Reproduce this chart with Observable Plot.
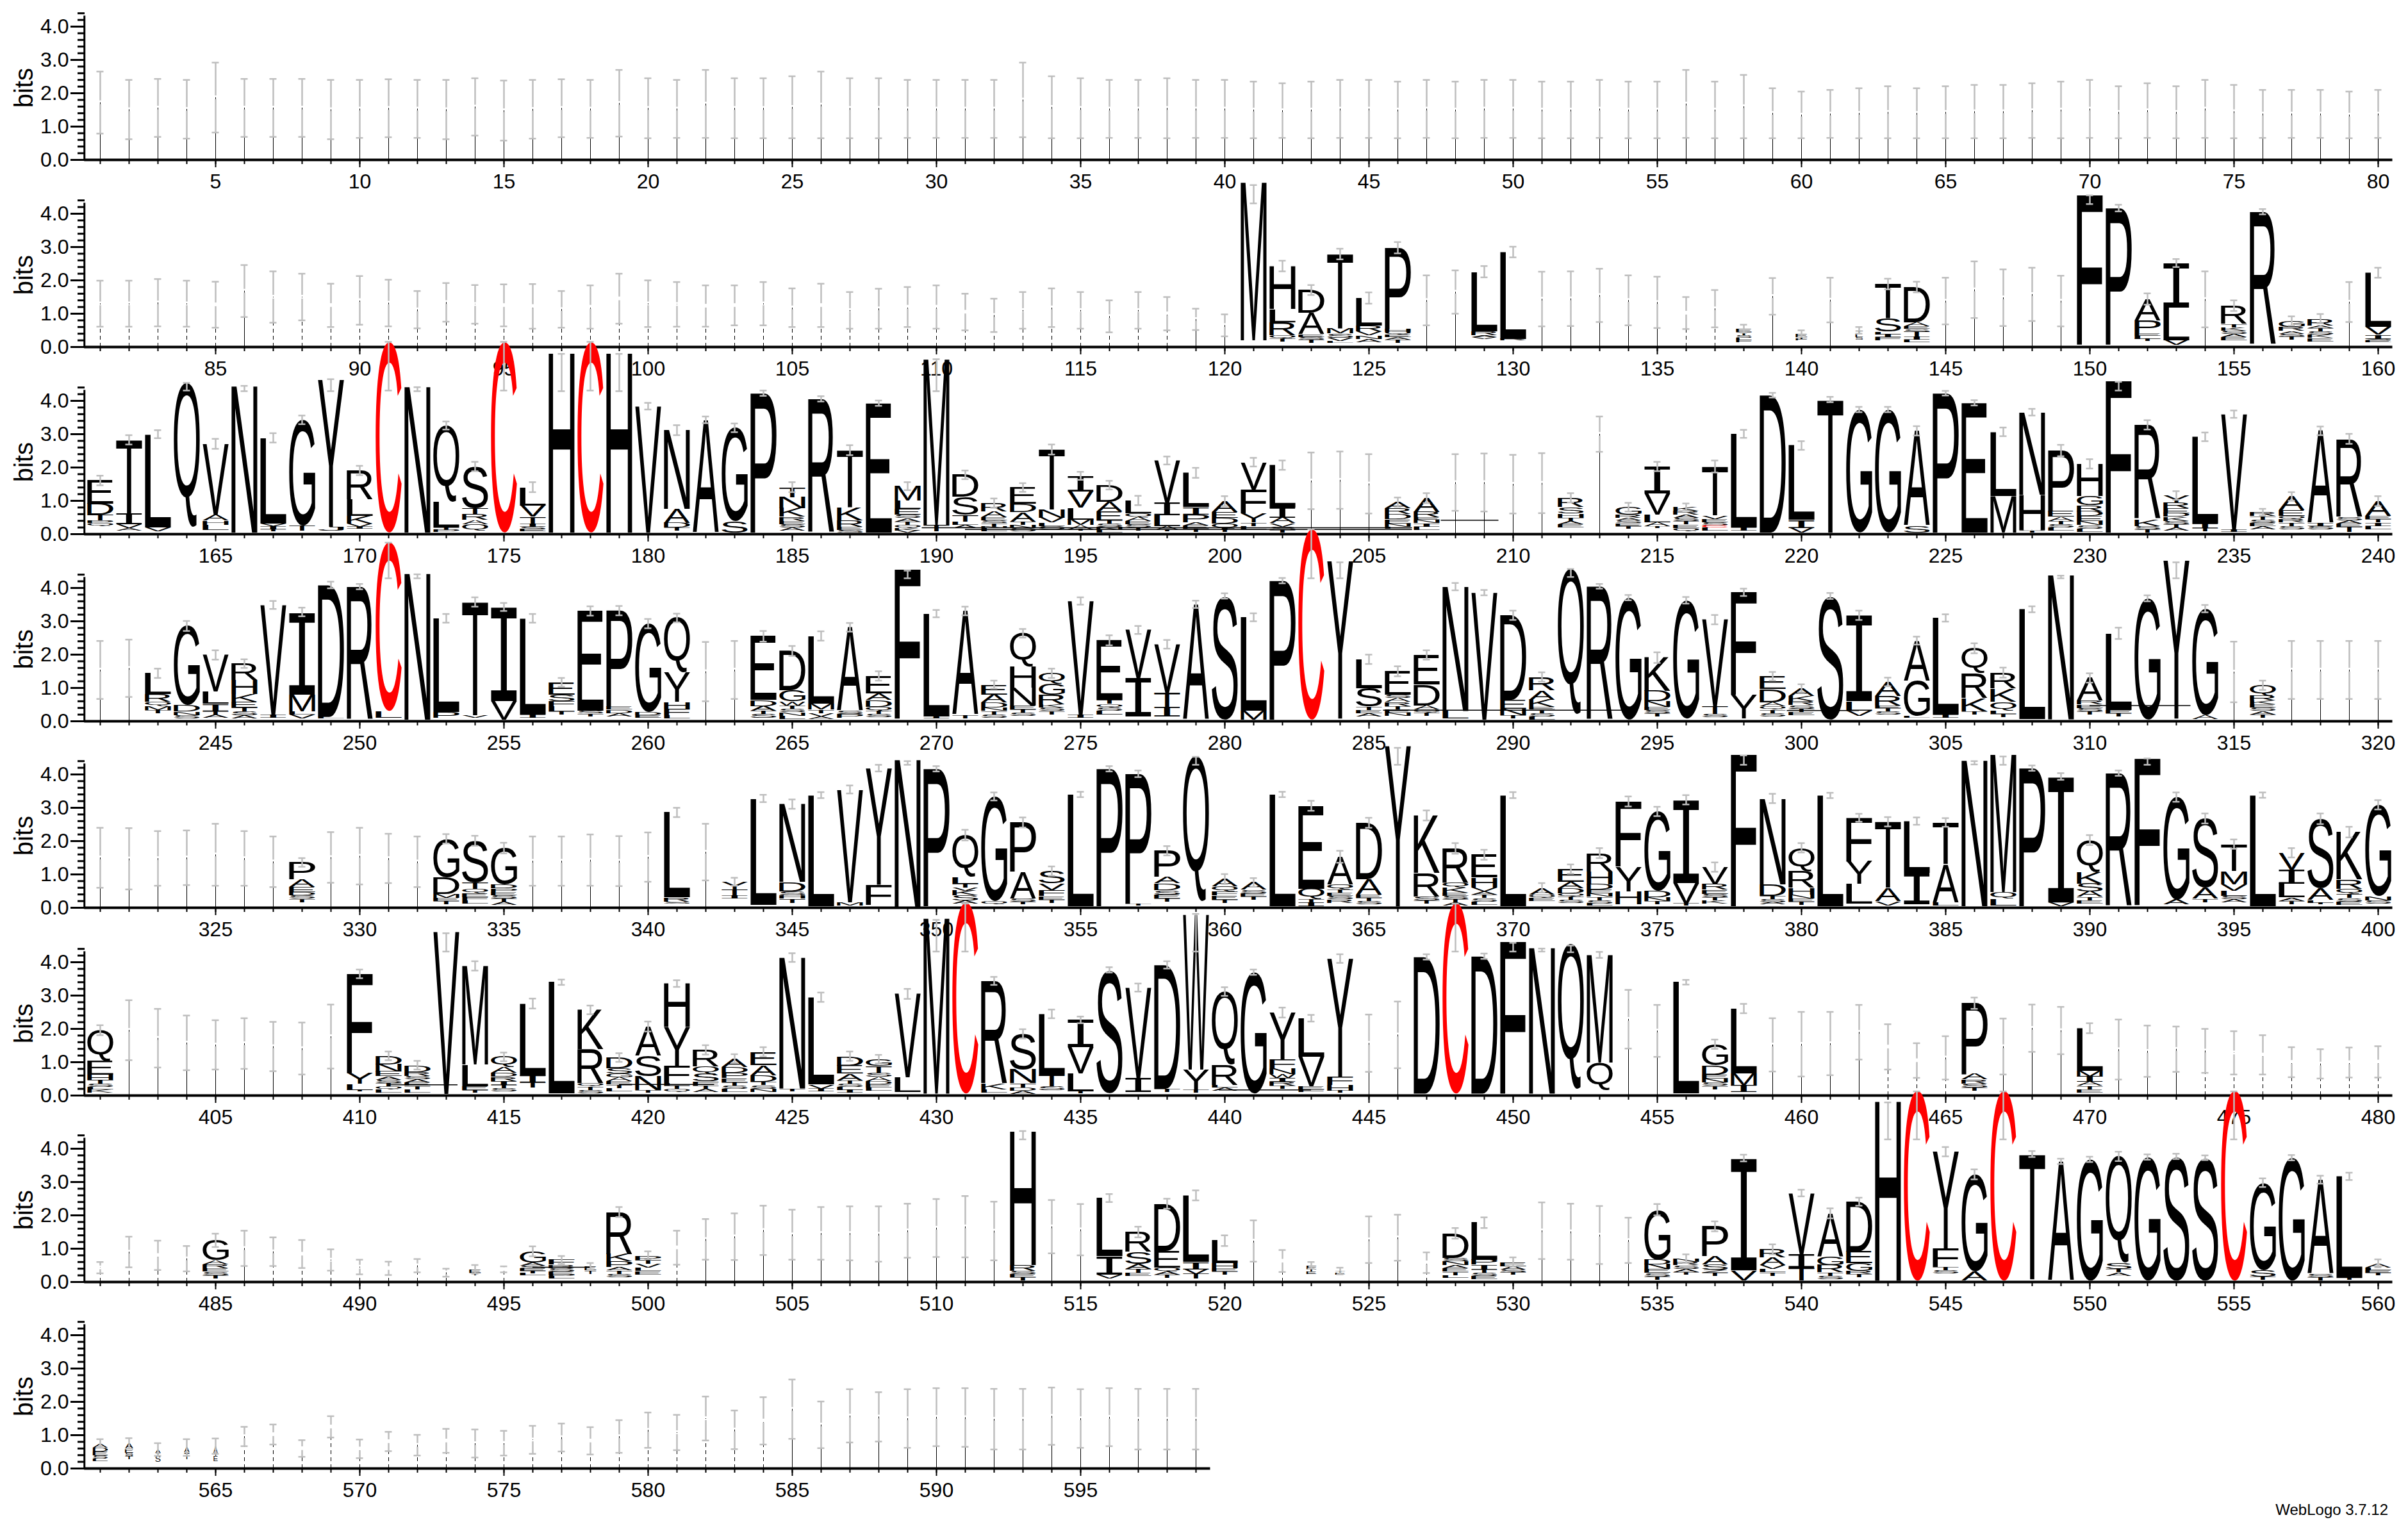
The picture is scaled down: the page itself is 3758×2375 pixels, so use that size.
<!DOCTYPE html>
<html><head><meta charset="utf-8">
<script src="https://cdn.jsdelivr.net/npm/d3@7"></script>
<script src="https://cdn.jsdelivr.net/npm/@observablehq/plot@0.6"></script>
<style>
html,body{margin:0;padding:0;background:#fff;}
#page{position:relative;width:3758px;height:2375px;overflow:hidden;font-family:"Liberation Sans",sans-serif;}
.row{position:absolute;left:0;}
#credit{position:absolute;right:31px;top:2342px;font-size:24px;line-height:28px;color:#000;}
</style></head><body><div id="page"></div>
<script>
// Each entry: letters top-down with height in bits ("_" blank, "|" or "!" thin line), ":" half error or "lo,hi", optional ":" half stack width
const row1=["|1.72:.93","|1.51:.89","|1.56:.87","|1.52:.88","|1.87:1.05","|1.56:.87","|1.56:.87","|1.56:.87","|1.51:.89","|1.53:.87","|1.55:.87","|1.53:.87","|1.51:.89","|1.59:.86","|1.48:.9","|1.52:.88","|1.55:.87","|1.53:.87","|1.7:1","|1.55:.9","|1.53:.87","|1.68:1.02","|1.55:.9","|1.55:.9","|1.58:.93","|1.65:1","|1.55:.9","|1.55:.9","|1.53:.87","|1.53:.87","|1.53:.87","|1.53:.87","|1.8:1.12","|1.58:.93","|1.55:.9","|1.53:.87","|1.53:.87","|1.55:.9","|1.53:.87","|1.53:.87","|1.5:.85","|1.48:.82","|1.5:.85","|1.53:.87","|1.53:.87","|1.5:.85","|1.53:.87","|1.5:.85","|1.53:.87","|1.53:.87","|1.5:.85","|1.5:.85","|1.53:.87","|1.5:.85","|1.5:.85","|1.68:1.02","|1.5:.85","|1.6:.95","|1.4:.75","|1.35:.7","|1.38:.72","|1.4:.75","|1.43:.78","|1.4:.75","|1.43:.78","|1.45:.8","|1.45:.8","|1.48:.82","|1.5:.85","|1.53:.87","|1.43:.78","|1.48:.82","|1.43:.78","|1.53:.87","|1.45:.8","|1.38:.72","|1.38:.72","|1.38:.72","|1.35:.7","|1.38:.72"];
const row2=["!1.3:.69","!1.3:.69","!1.33:.71","!1.3:.69","!1.27:.69","|1.68:.78","!1.5:.77","!1.5:.7","!1.25:.65","!1.4:.73","!1.32:.7","!1.12:.56","!1.34:.58","!1.28:.58","!1.25:.63","!1.22:.67","!1.13:.55","!1.2:.65","!1.45:.75","!1.3:.7","!1.28:.67","!1.23:.62","!1.25:.6","!1.3:.65","!1.18:.58","!1.25:.65","!1.1:.55","!1.15:.6","!1.2:.6","!1.2:.65","!1.05:.55","!.95:.5","!1.1:.55","!1.18:.58","!1.1:.55","!.92:.48","!1.1:.55","!1:.5","|.83:.32","|.65:.33",
"M4.74_.2:4.31,4.86","H1.28L.4R.4Q.08T.1_.17:.16","D.68A.65E.08S.08T.09_.13:.15","T2.23M.15S.13V.1L.05_.13:.16","L.83R.17V.12N.1A.1_.15:.17","P2.43H.09Q.09E.07A.07T.1_.13:.17","|1.4:.75","|1.65:.65","L1.78R.13A.05V.05_.25:.17","L2.6R.05_.2:.16","|1.44:.82","|1.45:.82","|1.55:.8","|1.4:.75","|1.34:.77","!1.02:.48","!1.15:.56","E.1T.1S.08L.06F.06_.15:.12:.27","|1.52:.55","E.1T.05F.05_.2:.1:.2","|1.41:.67","T.1L.1S.08_.22:.1:.13","T1.03S.4L.08I.08F.1_.2:.16","D1.06A.12E.08S.08T.14I.1L.08_.14:.16","|1.38:.7","|1.72:.85","|1.48:.85","|1.58:.8","|1.38:.76","F4.49_.07:4.29,4.55","P4.1_.07:.1","A.64P.38E.08L.1T.06_.18:.17","I1.33L.98V.14_.07:.12","|1.43:.84","R.55T.1K.09S.1A.1E.1_.2:.16","R3.99_.07:.08","G.18R.12A.08S.08T.1_.22:.14","R.2A.08T.1S.1K.1E.1_.17:.14","|1.35:.6","L1.63V.23I.12S.05E.05_.15:.15"];
const row3=["E.7D.33T.17P.08Q.1_.23:.145","T2.2I.33V.12A.08_.1:.14","L2.79V.13_.08:.12","Q4.31_.23:4.31,4.54","V2.14A.16H.13L.15_.13:.15","N4.39_.05:4.29,4.45","L2.57V.08I.1T.05_.09:.14","G3.18T.15_.1:.13","Y4.42J.12_.1:4.29,4.65","R.87L.5K.22V.1I.06_.16:.14","C5.72_.05:4.31,5.77","N4.37_.05:4.29,4.41","Q2.3L.75T.08P.06_.07:.12","S1.25T.18R.17A.13Q.2_.1:.14","C5.72_.05:4.31,5.77","L.55V.34T.2I.1S.08E.06_.08:.15","H5.38_.05:4.29,5.41","C5.72_.05:4.31,5.77","H5.38_.05:4.29,5.41","V3.79_.05:.1",
"N2.36A.42D.14T.1_.1:.15","A3.38_.05:.1","G2.8S.34_.05:.13","P4.18_.05:.08","T.3N.33K.26R.12E.1S.1A.1_.1:.15","R4.01_.05:.08","T1.7K.4R.2E.1S.07_.05:.15","E3.88_.05:.08","M.43L.25E.18S.1A.1T.1Q.1K.08V.06_.04:.12","M4.97T.2_.08:4.29,5.25","D.66S.54T.2L.1A.1_.18:.13","R.25A.17E.1S.08T.1N.05L.1_.08:.14","E.49D.25A.28T.1N.1S.1_.08:.13","T1.8N.25V.14L.1S.1_.15:.15","I.47V.49L.35M.17A.12T.05_.1:.12","D.49A.3E.26T.1S.1N.1L.07_.05:.13","L.38Q.12A.11E.1S.1T.1_.1:.14","V1.28I.37L.31A.12T.05_.08:.12","L1.03I.22P.23A.1E.1T.1_.06:.15","A.33E.17D.17Q.14I.06T.06_.06:.15",
"V.82F.72Y.27T.1L.1_.15:.13","L1.28I.3A.16V.1S.1T.08_.05:.14","|1.6:.85","|1.62:.86","|1.51:.89","A.19R.17D.15E.13N.1L.05_.17:.14","A.42R.16E.07N.1I.1L.1_.13:.15","|1.55:.85","|1.55:.87","|1.5:.88","|1.53:.9","R.28S.18H.13T.1A.1E.1_.2:.14","|3:.53","G.22R.1A.08S.08E.08T.08_.17:.13","I.8V.65L.23A.12T.05_.18:.14","K.11R.11A.1S.1T.1E.1Q.1_.09:.11","T1.47V.1E.1S.1C.06L.1_.1:.18","L2.81I.1_.1:.12","D4.12_.05:.07","L2.23I.24V.14_.05:.13",
"T3.99_.05:.08","G3.69_.05:.08","G3.69_.05:.08","A2.85S.2_.05:.14","P4.18_.05:.07","E3.89_.05:.08","L1.93M1.09_.05:.13","N2.47H1.06A.03T.05_.05:.1","P1.82E.16A.13T.1S.1L.1_.1:.17","H.97G.27R.18D.15E.14N.13S.1L.1_.07:.14","F4.55_.05:4.31,4.57","R2.83K.2S.1T.1_.05:.14","Y.23R.16E.14D.11K.12S.1T.1A.1_.1:.13","L2.6I.14T.1_.08:.13","V3.46I.07_.07:.11","R.12T.1S.1E.1A.1_.14:.1","A.42E.16Q.1R.1T.1S.1_.15:.13","A2.77I.08S.1_.15:.13","R2.34S.1A.1E.1T.15_.07:.15","A.44E.1T.1I.1L.1_.15:.15"];
const row4=["|1.54:.87","|1.59:.86","L.63R.23Q.12M.12T.1_.24:.14","G2.37D.2N.1S.1_.09:.15","V1.1L.37I.22T.1A.1_.1:.14","R.5H.42K.22E.17T.12S.12A.1_.08:.13","V3.3I.09_.1:.12","I2.48M.5L.1V.12_.08:.13","D3.96L.05_.08:.1","R3.99_.05:.08","C5.07L.2_.11:4.29,5.36","N4.38_.05:4.29,4.41","L2.82P.17_.1:.13","T3.4V.08_.1:.14","I2.82V.56_.05:.12","L2.89I.1_.1:.13","E.37S.2F.15L.15T.1_.2:.13","E3S.08T.08_.15:.14","P2.87E.1D.1A.1_.15:.14","G2.65D.1E.08_.1:.14",
"Q1.64Y.88H.2F.2L.1_.08:.13","|1.49:.89","|1.54:.87","E1.91D.18A.14T.1S.12_.1:.16","D1.18G.33W.13T.1S.1N.1L.1_.07:.15","L2.03M.18T.1V.1A.08_.07:.14","A2.5S.1P.12_.1:.13","E.52A.2D.2Q.12T.1S.1_.12:.14","F4.48_.08:4.29,4.52","L3.09I.06_.08:.11","A3.12T.1_.09:.13","E.3A.24D.15N.1T.1S.1_.11:.12","Q1H.63N.53E.12T.1S.1_.16:.13","Q.31G.33R.29K.1S.1T.1_.21:.14","V3.42I.09_.1:.11","E1.79T.12Q.1S.1L.12_.2:.15","V1.44I1.16_.14:.12","V1.46T.42I.28_.15:.13","A3.46_.05:.11","S3.71_.05:.08",
"L2.8M.27_.05:.12","P4.17_.05:.08","C5.72_.05:4.29,5.76","Y4.73_.08:4.29,4.77","L.87S.55T.1E.1A.1_.14:.14","E.7S.1A.12R.12T.1E.1N.1_.16:.15","E.89D.62A.12Q.1T.1_.16:.14","N3.73L.22_.09:.11","V3.81_.05:.08","D2.53E.27N.2T.1_.08:.14","R.4A.28K.22E.08T.1S.1L.1_.05:.14","Q4.35_.22:4.33,4.57","R4_.05:.07","G3.66_.05:.08","K1D.31N.16E.1S.1T.1_.14:.16","G3.55_.08:.1","V2.6T.22S.1_.13:.14","F3.08Y.7_.09:.11","E.38D.4A.12Q.1T.1S.1_.15:.13","A.23K.15R.13S.1T.1E.1_.18:.12",
"S3.71_.05:.09","I2.58L.28V.15_.17:.14","A.42R.3E.06T.1S.1_.2:.13","A1.2G1.06L.05_.11:.12","L2.9I.1_.1:.11","Q.75R.75K.39T.1_.2:.15","R.48K.4Q.26L.1T.1_.12:.15","L3.3_.06:.09","N4.33_.06:4.29,4.37","A.68R.12E.1S.1T.1_.2:.14","L2.3E.1T.1_.14:.17","G3.64_.05:.09","Y4.75_.08:4.29,4.77","G3.2A.12_.06:.11","|1.48:.91","Q.3R.15K.12E.1S.1A.1T.1_.11:.14","|1.54:.87","|1.54:.87","|1.54:.87","|1.54:.87"];
const row5=["|1.5:.9","|1.47:.92","|1.48:.82","|1.5:.82","|1.59:.93","|1.48:.82","|1.38:.76","P.51A.23E.15D.1S.1T.1_.17:.13","|1.51:.76","|1.55:.85","|1.48:.74","|1.38:.76","G1.15D.5M.12E.1T.1_.1:.14","S1.24T.2Q.13E.12F.1L.1_.12:.15","G1.09D.12P.1E.1S.1T.1A.1_.08:.16","|1.4:.74","|1.4:.74","|1.43:.77","|1.4:.75","|1.52:.74",
"L2.55R.13S.05_.13:.14","|1.67:.85","Y.23T.17I.1_.28:.12","L3.19_.09:.11","N2.33D.28S.13H.1T.12_.15:.14","L3.33_.05:.09","V3.38M.1_.07:.12","Y3.5F.6_.09:.1","N4.42_.02:4.29,4.4","P4.12_.05:.08","Q1.25L.2T.12V.1K.14S.15A.1_.12:.16","G3.15Q.09_.1:.12","P1.48A.8S.1T.08_.1:.15","S.37V.2F.18E.1T.1_.15:.14","L3.36_.04:.08","P4.12_.05:.08","P3.9T.05_.07:.1","P.78A.2D.2S.13E.12T.1_.18:.14","Q4.35_.2:4.29,4.53","A.22Q.15F.12E.12T.1_.15:.15",
"A.22S.1E.1T.1_.24:.13","L3.36_.04:.08","E2.49Q.3T.1I.12_.05:.15","A.84Q.14T.1E.1S.1R.1_.15:.18","D1.69A.46E.1T.1S.1_.1:.15","Y4.82_.04:4.29,4.8","K1.73R.7S.12T.1_.12:.15","R1.03Q.14K.15E.1S.1T.1A.1_.06:.16","E.68H.3V.12A.1T.1S.1L.1_.09:.15","L3.33_.05:.09","A.2Q.1E.1_.2:.14","E.38A.2D.14Q.1T.1S.1_.14:.14","R.55H.38D.16E.12N.1T.1S.1L.06_.07:.15","F1.95Y.74H.4_.1:.15","G2.37D.2N.12T.1_.1:.14","I2.5V.62T.06_.06:.14","V.52R.16E.12S.1T.1K.1_.12:.14","F4.55_.05:4.29,4.57","N2.57D.35T.1S.1A.06_.1:.14","Q.7R.5H.2N.12E.1T.1_.08:.14",
"L3.32_.05:.08","F1.3Y.68L.6_.12:.12","T1.98A.4V.13_.07:.14","L1.55I.95_.1:.11","T1.25A1.15L.1_.06:.13","N4.37_.05:4.3,4.4","M4.13Q.2L.2_.07:4.29,4.54","P4.14_.05:.08","I3.78V.11_.05:.1","Q.95K.35S.24A.16T.1E.1_.13:.15","R3.99_.05:.08","F4.4_.08:4.29,4.48","G3.08A.14_.1:.14","S2.09A.32T.1_.17:.15","T.8M.4V.2L.15S.1A.1_.16:.14","L3.33_.05:.08","V.5I.42L.42A.1T.1_.11:.14","S2.1A.34L.08T.05_.1:.16","K1.42R.28Q.16T.12S.1E.1_.09:.16","G2.74N.12S.1_.13:.14"];
const row6=["Q.92E.42H.14T.12S.1L.08K.1_.08:.15","|1.96:.9","|1.72:.88","|1.58:.82","|1.52:.74","|1.56:.76","|1.47:.74","|1.41:.78","|1.77:.96","F2.98Y.32L.18T.05_.12:.13","D.25N.21E.15A.1S.1T.1Q.1L.1_.08:.13","D.2R.12S.1A.1E.1T.1L.1_.09:.13","V4.87_.05:4.32,4.87","M2.96L.65E.12T.08_.08:.14","Q.3A.17D.13R.12I.12T.1S.1_.12:.13","L2.17I.2T.15_.24:.15","L3.34_.06:.08","K1.18R1.02Q.1T.1S.1_.07:.13","D.32S.15G.12A.12E.1T.1L.1_.13:.13","A.87S.62N.42T.08_.08:.15",
"H1.3Y1.16F.52L.08T.1Q.1_.1:.1","R.5Q.22S.22F.13T.1A.1_.1:.14","A.25D.18P.15E.13T.1S.1L.1_.1:.13","E.4A.3D.2T.1S.1N.1_.11:.14","N3.93T.08_.13:.13","L2.62V.13I.08_.12:.14","D.28E.24A.2T.1S.1L.1I.08_.08:.14","G.2T.2S.13A.12D.1E.1L.1_.14:.13","V2.51L.44_.1:.15","M5.26_.06:4.32,5.27","C5.74_.06:4.32,5.76","R3.08K.18L.1_.08:.12","S1.06N.42T.12D.1A.1_.05:.14","L1.83T.34S.12_.16:.13","I.82V.78L.54T.07_.06:.1","S3.7_.07:.08","V2.72I.42_.1:.12","D3.72T.1_.1:.11","W4.65Y.6T.1_.08:4.32,5.45","Q2.2R.6L.08A.1_.14:.13",
"G3.64_.06:.08","Y1.41F.26N.17W.12I.11R.12T.1_.2:.15","L1.16V.88E.1F.08_.1:.1","Y3.55F.25H.17T.06_.08:.13","|1.57:.86","|1.82:1","D4.1_.06:.08","C5.72_.06:4.32,5.76","D4.12_.06:.08","F4.56_.06:4.32,4.58","N4.37_.06:4.32,4.41","Q4.34_.2:4.3,4.5","M3.23Q.82_.17:.09","|2.29:.88","|1.94:.78","L3.34_.06:.07","G.63D.28E.12N.12S.1T.1_.19:.14","L1.95M.36I.2_.1:.14","|1.52:.8","|1.54:.97",
"|1.56:.95","|1.9:.82","!1.46:.68","!1.05:.52","!1.13:.65","P2.13A.16R.12S.12T.1_.14:.17","|1.47:.84","|2.02:.71","|1.95:.71","L1.28M.17I.16A.12T.1E.1_.09:.15","|1.38:.9","|1.33:.77","|1.39:.68","!1.34:.66","!1.28:.65","!1.22:.59","!1:.45","!.95:.44","!.99:.45","!1.01:.47"];
const row7=["!.43:.17","!.9:.46","!.8:.44","!.7:.38","G.6A.12R.12E.1S.1T.1_.11:.2","|1.01:.53","!.91:.43","!.84:.42","!.66:.32","!.45:.22","!.41:.2","!.49:.2","!.28:.12","E.1T.08_.2:.13:.2","!.38:.09","G.33A.1S.07E.08T.08L.06_.2:.15","F.14R.1S.1E.1P.06L.06_.1:.12","E.12T.1_.25:.1:.2","R1.27K.21P.17A.1T.1S.1_.15:.15","P.13T.12V.12L.1E.1_.23:.12",
"!1.03:.51","|1.28:.61","|1.36:.7","|1.55:.74","|1.42:.75","|1.46:.79","|1.46:.81","|1.44:.83","|1.54:.81","|1.62:.87","|1.66:.92","|1.53:.88","H4.01R.17S.1E.1T.1_.04:4.28,4.53","|1.66:.8","|1.57:.77","L1.75I.55V.12_.1:.12","R.6S.36A.14T.12E.1_.18:.16","D1.41E.5Q.12A.1T.1_.12:.15","L2I.22V.14T.14_.1:.15","L.68H.14E.1T.1_.22:.16",
"|1.23:.62","!.63:.33","F.1T.08E.08_.24:.1:.17","T.05E.05_.23:.1:.17","|1.27:.7","|1.33:.69","!.58:.31","D.73S.1N.12A.1E.1T.1L.08_.13:.16","L1.12P.14I.14T.1S.1E.1_.08:.16","E.12A.1S.08T.07_.23:.14","|1.54:.85","|1.51:.84","|1.41:.87","|1.25:.68","G1.5D.14N.14E.12S.1T.1_.07:.17","N.1R.1S.1A.1T.08_.22:.13","P.9A.24S.15Z.1T.1_.18:.15","I3.37V.3_.05:.1","R.24A.23V.12L.1T.1_.19:.15","V1.83I.4T.4_.04:.1",
"A1.29G.26R.22T.1S.1_.09:.15","D1.49E.36G.22R.1T.1_.14:.12","H5.38_.04:4.28,5.39","C5.7_.04:4.28,5.72","Y2.9F.56T.1S.1_.25:.14","G2.92A.26_.05:.15","C5.7_.04:4.28,5.72","T3.76_.08:.09","A3.58_.04:.08","G3.64_.04:.08","Q3.2S.18T.1A.1_.19:.14","G3.71_.04:.08","S3.73_.04:.08","S3.69_.04:.07","C5.7_.04:4.28,5.72","G2.62S.19T.1_.07:.13","G3.69_.04:.08","A2.83S.1T.1_.04:.12","L3.05T.05_.07:.11","A.12L.08E.08T.08_.2:.12"];
const row8=["A.13D.11E.11S.1L.08_.22:.13:.26","A.15E.12S.1T.1_.28:.16:.14","A.1T.1S.18_.19:.19:.09","A.15T.2_.28:.25:.09","A.2T.1E.15_.22:.23:.07","!.96:.29","!1.02:.3","!.6:.25","!1.25:.32","!.59:.28","!.81:.29","!.7:.31","!.83:.36","!.75:.42","!.76:.37","!.86:.42","!.93:.42","!.83:.41","!.96:.49","!1.15:.53","!1.08:.53","!1.5:.66","!1.16:.58","!1.43:.71","|1.78:.89","|1.31:.7","|1.58:.8","|1.55:.74","|1.5:.88","|1.54:.87","|1.53:.88","|1.48:.91","|1.48:.91","|1.57:.86","|1.5:.88","|1.54:.87","|1.48:.91","|1.48:.91","|1.48:.91"];
const rows=[row1,row2,row3,row4,row5,row6,row7,row8];
const rowStarts=[1,81,161,241,321,401,481,561];
const baselines=[249,541,833,1124.5,1416,1708.5,2000,2291];
const wideLines=[[189.5,206.5,.19],[191,206.5,.14],[207.5,209.5,.42],[285.5,294,.33],[299.5,302,.32],[310,313.5,.47],[411,413.4,.32],[419,422.3,.33],[439.8,443,.17],[496,498,.44]];
const maxBits=4.32, stackHalf=.45, capHalf=.122, gap=.055;
const RED="#ff0000", GREY="#bebebe", FONT='"Liberation Sans"', SERIF_I='"Liberation Mono"';

const ctx=document.createElement("canvas").getContext("2d");
const inkCache={};
function ink(ch){
  if(!inkCache[ch]){
    ctx.font="200px "+(ch==="I"?SERIF_I:FONT);
    const m=ctx.measureText(ch);
    inkCache[ch]={l:m.actualBoundingBoxLeft/2,r:m.actualBoundingBoxRight/2,a:m.actualBoundingBoxAscent/2,d:m.actualBoundingBoxDescent/2};
  }
  return inkCache[ch];
}
function parseRow(list,start){
  const letters=[],thin=[],dash=[],bars=[],caps=[];
  list.forEach((s,i)=>{
    const pos=start+i,[st,e,w]=s.split(":");
    const half=w?+w:stackHalf;
    const toks=[...st.matchAll(/([A-Z_|!])([\d.]+)/g)].map(m=>[m[1],+m[2]]);
    const top=d3.sum(toks,t=>t[1]);
    let y=top;
    for(const [c,h] of toks){
      if(c==="|")thin.push({pos,y0:y-h,y1:y});
      else if(c==="!")dash.push({pos,y0:y-h,y1:y});
      else if(c!=="_")letters.push({pos,half,letter:c,y0:y-h,y1:y});
      y-=h;
    }
    let lo,hi;
    if(e.includes(",")){[lo,hi]=e.split(",").map(Number);}else{lo=top-(+e);hi=top+(+e);}
    const blank=toks[0][0]==="|"||toks[0][0]==="!";
    if(blank){bars.push({pos,a:lo,b:top-gap},{pos,a:top+gap,b:hi});}
    else bars.push({pos,a:lo,b:hi});
    caps.push({x1:pos-capHalf,x2:pos+capHalf,y:lo},{x1:pos-capHalf,x2:pos+capHalf,y:hi});
  });
  return {letters,thin,dash,bars,caps};
}
function letterMark(letters){
  return Plot.text(letters,{x:"pos",y:"y0",text:"letter",fontSize:100,textAnchor:"start",
    fill:d=>d.letter==="C"?RED:"#000",
    render(index,scales,values,dimensions,context,next){
      const g=next(index,scales,values,dimensions,context);
      const nodes=g.querySelectorAll("text");
      index.forEach((i,k)=>{
        const d=letters[i],n=nodes[k]; if(!n)return;
        const m=ink(d.letter);
        const X0=scales.x(d.pos-d.half),X1=scales.x(d.pos+d.half);
        const Yb=scales.y(d.y0),Yt=scales.y(d.y1);
        const sx=(X1-X0)/(m.l+m.r),sy=(Yb-Yt)/(m.a+m.d);
        n.removeAttribute("y");n.removeAttribute("dy");
        n.setAttribute("text-anchor","start");
        if(d.letter==="I")n.setAttribute("font-family",SERIF_I);
        n.setAttribute("transform",`translate(${X0+m.l*sx},${Yb-m.d*sy}) scale(${sx},${sy})`);
      });
      return g;
    }});
}
const page=document.getElementById("page");
const H=292,MB=40,PX=3733.5;
const pxBit=52;
rows.forEach((list,r)=>{
  const start=rowStarts[r],end=start+list.length-1;
  const {letters,thin,dash,bars,caps}=parseRow(list,start);
  const all=d3.range(start,end+1),major=all.filter(v=>v%5===0);
  const wides=wideLines.filter(w=>w[0]>=start-1&&w[0]<=end).map(w=>({x1:w[0],x2:w[1],y:w[2]}));
  const svg=Plot.plot({
    width:3758,height:H,marginLeft:132,marginRight:24.5,marginBottom:MB,marginTop:H-MB-maxBits*pxBit,
    style:{background:"transparent",overflow:"visible",maxWidth:"none",fontFamily:FONT,color:"#000"},
    x:{domain:[start-.5,start+79.5],range:[133.5,PX],axis:null},
    y:{domain:[0,maxBits],axis:null},
    marks:[
      Plot.ruleX(thin,{x:"pos",y1:"y0",y2:"y1",stroke:"#000",strokeWidth:1}),
      Plot.ruleX(dash,{x:"pos",y1:"y0",y2:"y1",stroke:"#000",strokeWidth:1,strokeDasharray:"6,5"}),
      Plot.ruleY(wides,{x1:"x1",x2:"x2",y:"y",stroke:"#000",strokeWidth:1.5}),
      letterMark(letters),
      Plot.ruleX(bars,{x:"pos",y1:"a",y2:"b",stroke:GREY,strokeWidth:2.5}),
      Plot.ruleY(caps,{x1:"x1",x2:"x2",y:"y",stroke:GREY,strokeWidth:2.5}),
      Plot.ruleY([0],{x1:start-.55,x2:end+.5,stroke:"#000",strokeWidth:4}),
      Plot.ruleX([start-.55],{y1:0,y2:maxBits,stroke:"#000",strokeWidth:3}),
      Plot.axisY({ticks:d3.range(0,4.01,1),tickFormat:".1f",tickSize:22,tickPadding:3,strokeWidth:3,fontSize:32,label:null}),
      Plot.axisY({ticks:d3.range(0,4.41,.2),tickSize:11,strokeWidth:3,fill:"none",label:null}),
      Plot.axisX({ticks:major,tickFormat:d=>String(d),tickSize:12,tickPadding:10,strokeWidth:2,fontSize:32,label:null}),
      Plot.axisX({ticks:all,tickSize:7,strokeWidth:2,fill:"none",label:null}),
      Plot.text(["bits"],{frameAnchor:"left",y:maxBits/2,dx:-82,rotate:-90,fontSize:40,textAnchor:"middle",lineAnchor:"bottom",fill:"#000"})
    ]
  });
  const div=document.createElement("div");
  div.className="row";
  div.style.top=(baselines[r]-(H-MB))+"px";
  div.appendChild(svg);
  page.appendChild(div);
});
const credit=document.createElement("div");
credit.id="credit";credit.textContent="WebLogo 3.7.12";
page.appendChild(credit);
</script></body></html>
